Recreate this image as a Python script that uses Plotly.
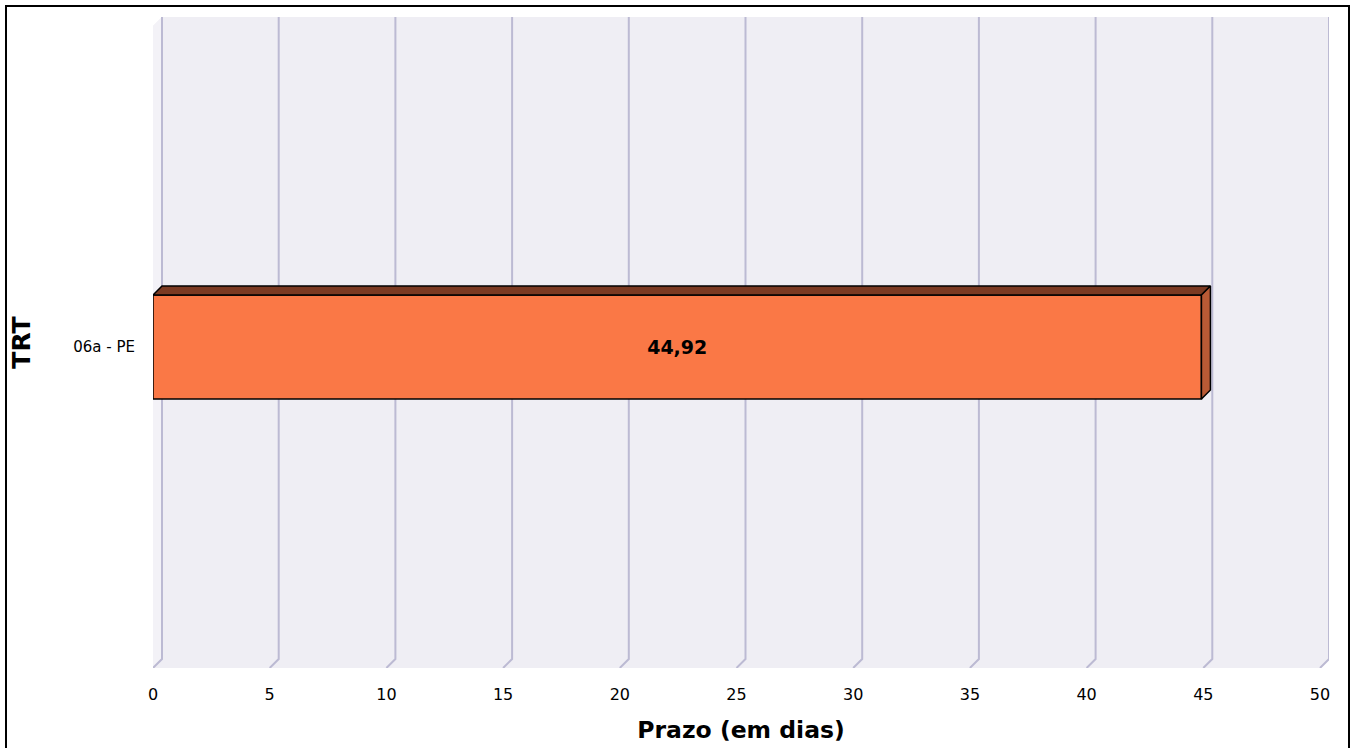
#!/usr/bin/env python3
"""
Prazo (em dias) por TRT - horizontal bar with a 3D look.
"""

from plotly import graph_objects as go

# Data
CATEGORIES = ["06a - PE"]
VALUES = [44.92]
X_TICKS = [0, 5, 10, 15, 20, 25, 30, 35, 40, 45, 50]
X_MAX = 50

# Canvas
WIDTH = 1355
HEIGHT = 748
FONT = "DejaVu Sans"

# 3D depth (pixels) and plot box (pixels)
DEPTH_PX = 9
FRONT_LEFT, FRONT_RIGHT = 153, 1320
FRONT_TOP, FRONT_BOTTOM = 26, 668
BAR_PX = 104

# Colours
WALL = "#EFEEF4"
SIDE_WALL = "#F3F2F7"
GRID = "#BCBAD3"
BAR_FRONT = "#FA7846"
BAR_TOP = "#7B3A22"
BAR_SIDE = "#B95A35"

# depth converted to data units
dx = DEPTH_PX * X_MAX / (FRONT_RIGHT - FRONT_LEFT)
dy = DEPTH_PX / (FRONT_BOTTOM - FRONT_TOP)
half = BAR_PX / (FRONT_BOTTOM - FRONT_TOP) / 2
y_lo, y_hi = -0.5, 0.5
y_pos = list(range(len(CATEGORIES)))

fig = go.Figure()

# Front face of the bars
fig.add_trace(
    go.Bar(
        x=VALUES,
        y=y_pos,
        orientation="h",
        width=2 * half,
        marker=dict(color=BAR_FRONT, line=dict(color="black", width=1.5)),
        texttemplate="<b>%{x:.2f}</b>",
        textposition="inside",
        insidetextanchor="middle",
        textfont=dict(family=FONT, size=19, color="black"),
        hoverinfo="skip",
    )
)

# Top and side faces
for yc, val in zip(y_pos, VALUES):
    top = [(0, yc + half), (dx, yc + half + dy), (val + dx, yc + half + dy),
           (val, yc + half), (0, yc + half)]
    side = [(val, yc - half), (val, yc + half), (val + dx, yc + half + dy),
            (val + dx, yc - half + dy), (val, yc - half)]
    for pts, col in ((top, BAR_TOP), (side, BAR_SIDE)):
        fig.add_trace(
            go.Scatter(
                x=[p[0] for p in pts],
                y=[p[1] for p in pts],
                mode="lines",
                fill="toself",
                fillcolor=col,
                line=dict(color="black", width=1.5),
                hoverinfo="skip",
                showlegend=False,
            )
        )

# Walls and grid as shapes under the bars
shapes = []
wall_path = (
    f"M 0,{y_lo} L 0,{y_hi} L {dx},{y_hi + dy} L {X_MAX + dx},{y_hi + dy} "
    f"L {X_MAX + dx},{y_lo + dy} L {X_MAX},{y_lo} Z"
)
shapes.append(dict(type="path", path=wall_path, xref="x", yref="y",
                   fillcolor=WALL, line=dict(width=0), layer="below"))
side_path = (
    f"M 0,{y_lo} L 0,{y_hi} L {dx},{y_hi + dy} L {dx},{y_lo + dy} Z"
)
shapes.append(dict(type="path", path=side_path, xref="x", yref="y",
                   fillcolor=SIDE_WALL, line=dict(width=0), layer="below"))
for v in X_TICKS:
    shapes.append(dict(type="path", xref="x", yref="y", layer="below",
                       path=f"M {v},{y_lo} L {v + dx},{y_lo + dy} L {v + dx},{y_hi + dy}",
                       line=dict(color=GRID, width=2)))

# Outer border
shapes.append(dict(type="rect", xref="paper", yref="paper",
                   x0=6 / WIDTH, x1=1349 / WIDTH, y0=-0.05, y1=1 - 6 / HEIGHT,
                   line=dict(color="black", width=2), layer="above"))

fig.update_layout(
    width=WIDTH,
    height=HEIGHT,
    margin=dict(l=0, r=0, t=0, b=0),
    paper_bgcolor="white",
    plot_bgcolor="white",
    separators=",.",
    showlegend=False,
    shapes=shapes,
    font=dict(family=FONT, color="black"),
    xaxis=dict(
        domain=[FRONT_LEFT / WIDTH, (FRONT_RIGHT + DEPTH_PX) / WIDTH],
        range=[0, X_MAX + dx],
        tickvals=X_TICKS,
        showgrid=False,
        zeroline=False,
        showline=False,
        ticks="outside",
        ticklen=12,
        tickcolor="rgba(0,0,0,0)",
        tickfont=dict(size=16),
        title=dict(text="<b>Prazo (em dias)</b>", font=dict(size=23.5), standoff=18),
        automargin=False,
    ),
    yaxis=dict(
        domain=[1 - FRONT_BOTTOM / HEIGHT, 1 - (FRONT_TOP - DEPTH_PX) / HEIGHT],
        range=[y_lo, y_hi + dy],
        tickvals=y_pos,
        ticktext=CATEGORIES,
        showgrid=False,
        zeroline=False,
        showline=False,
        ticks="outside",
        ticklen=14,
        tickcolor="rgba(0,0,0,0)",
        tickfont=dict(size=15),
        title=dict(text="<b>TRT</b>", font=dict(size=25), standoff=35),
        automargin=False,
    ),
)

fig.write_html(
    "out.html",
    config={"displayModeBar": False},
    post_script="document.body.style.margin='0';document.body.style.overflow='hidden';",
)
